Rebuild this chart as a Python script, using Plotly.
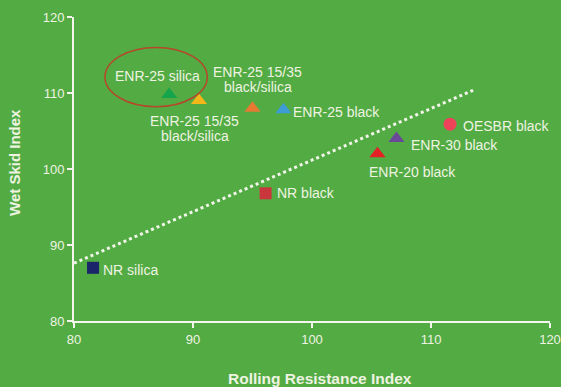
import plotly.graph_objects as go

# Compound data: rolling resistance index vs wet skid index
compounds = ["ENR-25 silica", "ENR-25 15/35 black/silica (a)", "ENR-25 15/35 black/silica (b)",
             "ENR-25 black", "OESBR black", "ENR-30 black", "ENR-20 black", "NR black", "NR silica"]
rolling_resistance = [88.0, 90.5, 95.0, 97.6, 111.6, 107.1, 105.5, 96.1, 81.6]
wet_skid = [109.8, 109.0, 108.0, 107.8, 105.9, 104.0, 102.0, 96.8, 87.0]
symbols = ["triangle-up", "triangle-up", "triangle-up", "triangle-up", "circle",
           "triangle-up", "triangle-up", "square", "square"]
colors = ["#14a44c", "#f4b619", "#e67a33", "#3d9bd6", "#ee4359",
          "#6a4a98", "#e41f26", "#c9373c", "#1b2569"]
sizes = [14, 14, 14, 14, 13, 14, 14, 12, 12]

# Label text and placement (lines, anchor, pixel shifts)
labels = [
    (["ENR-25 silica"], "center", -12, 19),
    (["ENR-25 15/35", "black/silica"], "center", -4, -28),
    (["ENR-25 15/35", "black/silica"], "center", 5, 29),
    (["ENR-25 black"], "left", 8, -2),
    (["OESBR black"], "left", 11, -2),
    (["ENR-30 black"], "left", 13, -6),
    (["ENR-20 black"], "left", -10, -18),
    (["NR black"], "left", 9, 0),
    (["NR silica"], "left", 8, -2),
]

# Trend line end points
trend_x = [80.0, 113.6]
trend_y = [87.6, 110.4]

# Highlight ellipse bounds
ellipse_x = [82.6, 91.2]
ellipse_y = [108.2, 116.0]

x_ticks = [80, 90, 100, 110, 120]
y_ticks = [80, 90, 100, 110, 120]

BG = "#53ab43"
TXT = "#eef3e2"
FONT = "Liberation Sans"

# Plot area in pixels
W, H = 561, 387
L, R, T, B = 74, 11, 17, 66
PW, PH = W - L - R, H - T - B

fig = go.Figure()

fig.add_trace(go.Scatter(
    x=trend_x, y=trend_y, mode="lines",
    line=dict(color="#f2f5ea", width=3, dash="dot"),
    hoverinfo="skip", showlegend=False,
))

for x, y, s, c, sz in zip(rolling_resistance, wet_skid, symbols, colors, sizes):
    fig.add_trace(go.Scatter(
        x=[x], y=[y], mode="markers",
        marker=dict(symbol=s, color=c, size=sz, line=dict(width=0)),
        showlegend=False,
    ))

annotations = []
line_h = 15
for (lines, anchor, dx, dy), x, y in zip(labels, rolling_resistance, wet_skid):
    n = len(lines)
    for i, txt in enumerate(lines):
        annotations.append(dict(
            x=x, y=y, xref="x", yref="y", text=txt, showarrow=False,
            xanchor=anchor, yanchor="middle",
            xshift=dx, yshift=dy + (n - 1 - i) * line_h - (n - 1) * line_h / 2,
            font=dict(family=FONT, size=14, color=TXT),
        ))

# Axis titles
annotations.append(dict(
    x=(320 - L) / PW, y=-(378 - (T + PH)) / PH, xref="paper", yref="paper",
    text="<b>Rolling Resistance Index</b>",
    showarrow=False, xanchor="center", yanchor="middle",
    font=dict(family=FONT, size=15.5, color=TXT),
))
annotations.append(dict(
    x=-(L - 14) / PW, y=((T + PH) - 163) / PH, xref="paper", yref="paper",
    text="<b>Wet Skid Index</b>", textangle=-90,
    showarrow=False, xanchor="center", yanchor="middle",
    font=dict(family=FONT, size=15, color=TXT),
))

fig.update_layout(
    width=W, height=H,
    margin=dict(l=L, r=R, t=T, b=B, autoexpand=False),
    paper_bgcolor=BG, plot_bgcolor=BG,
    annotations=annotations,
    shapes=[dict(
        type="circle", xref="x", yref="y",
        x0=ellipse_x[0], x1=ellipse_x[1], y0=ellipse_y[0], y1=ellipse_y[1],
        line=dict(color="#b5472a", width=1.5),
    )],
    font=dict(family=FONT, size=13, color=TXT),
)

axis_common = dict(
    showgrid=False, zeroline=False, showline=True, automargin=False,
    linecolor="#f4f6ee", linewidth=2,
    ticks="outside", tickcolor="#f4f6ee", tickwidth=2, ticklen=5,
    tickfont=dict(family=FONT, size=13, color=TXT),
    range=[80, 120],
)
fig.update_xaxes(tickvals=x_ticks, **axis_common)
fig.update_yaxes(tickvals=y_ticks, **axis_common)

fig.write_html("out.html")
